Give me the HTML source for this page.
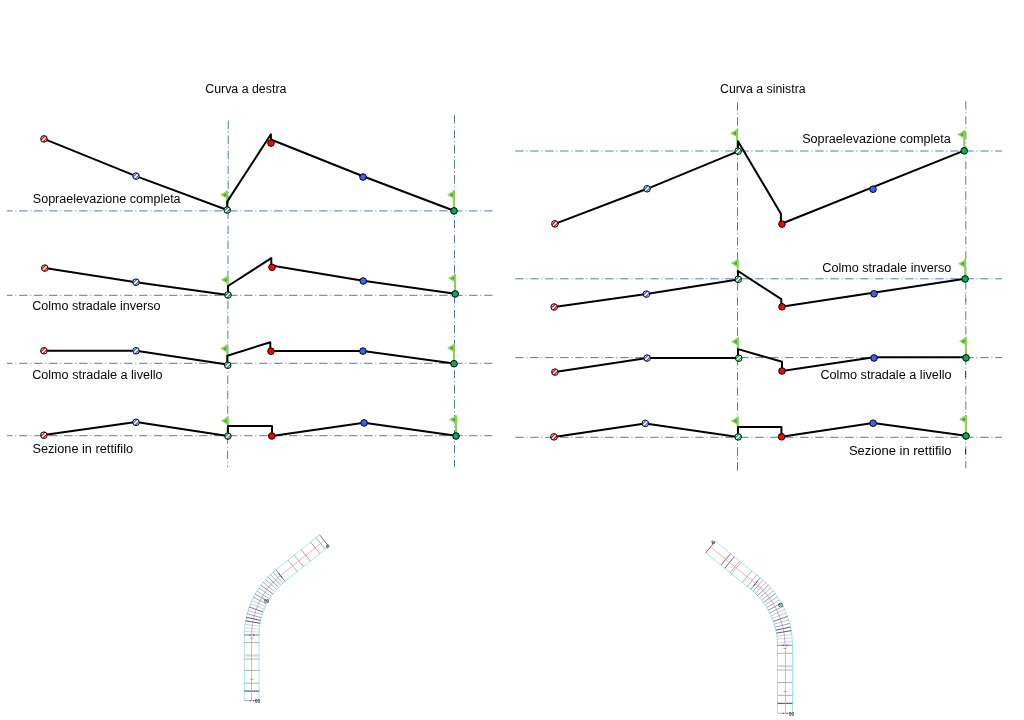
<!DOCTYPE html>
<html lang="it"><head><meta charset="utf-8"><title>Curva a destra / Curva a sinistra</title>
<style>
html,body{margin:0;padding:0;background:#fff;}
body{width:1024px;height:720px;overflow:hidden;position:relative;font-family:"Liberation Sans",sans-serif;}
svg{position:absolute;left:0;top:0;display:block;}
text{font-family:"Liberation Sans",sans-serif;font-size:12px;fill:#050505;}
.ax{stroke:#4a7ebb;stroke-width:1;stroke-dasharray:8.4 2.8 1 2.8;fill:none;}
.ln{stroke:#000;stroke-width:2;fill:none;stroke-linejoin:round;stroke-linecap:butt;}
.c{stroke:#000;stroke-width:1;}
</style></head><body>
<svg width="1024" height="720" viewBox="0 0 1024 720">
<defs>
<clipPath id="cc"><circle cx="0" cy="0" r="3.3"/></clipPath>
</defs>

<path class="ax" d="M228.3,120.6 L227.6,467"/>
<path class="ax" d="M454.5,115 V467"/>
<path class="ax" d="M7.0,210.9 H492.7" stroke-dashoffset="2.9"/>
<path class="ax" d="M7.0,295.3 H492.7" stroke-dashoffset="2.9"/>
<path class="ax" d="M7.0,363.3 H492.7" stroke-dashoffset="2.9"/>
<path class="ax" d="M7.0,435.7 H492.7" stroke-dashoffset="2.9"/>
<path class="ax" d="M737.5,102.2 V470.7"/>
<path class="ax" d="M965.8,101.2 V468.3"/>
<path class="ax" d="M515.2,151.0 H1002" stroke-dashoffset="0"/>
<path class="ax" d="M515.2,278.8 H1002" stroke-dashoffset="0"/>
<path class="ax" d="M515.2,357.6 H1002" stroke-dashoffset="0"/>
<path class="ax" d="M515.2,437.3 H1002" stroke-dashoffset="0"/>
<path d="M227.2,190.5 V210" stroke="#92d050" stroke-width="2" fill="none"/>
<path d="M227.39999999999998,190.5 L220.2,194.8 L227.39999999999998,199.1 Z" fill="#92d050"/>
<path d="M226.1,193.2 L223.1,194.9 L226.1,196.6 Z" fill="#12b24e"/>
<path d="M453.9,190.5 V210.9" stroke="#92d050" stroke-width="2" fill="none"/>
<path d="M454.09999999999997,190.5 L446.9,194.8 L454.09999999999997,199.1 Z" fill="#92d050"/>
<path d="M452.79999999999995,193.2 L449.79999999999995,194.9 L452.79999999999995,196.6 Z" fill="#12b24e"/>
<path class="ln" d="M44,138.9 L136,176.1 L227.2,210 V201.6 L270.9,134.3 V139.5 L363,176.3 L454,210.7"/>
<g transform="translate(44,138.9)"><circle r="3.3" fill="#fff"/><path clip-path="url(#cc)" d="M-3,5 L5,-3 M-5,3 L3,-5 M-1,7 L7,-1 M-7,1 L1,-7" stroke="#ff0000" stroke-width="1.25" fill="none"/><circle class="c" r="3.3" fill="none"/></g>
<g transform="translate(136,176.1)"><circle r="3.3" fill="#fff"/><path clip-path="url(#cc)" d="M-3,5 L5,-3 M-5,3 L3,-5 M-1,7 L7,-1 M-7,1 L1,-7" stroke="#3366ff" stroke-width="1.25" fill="none"/><circle class="c" r="3.3" fill="none"/></g>
<g transform="translate(227.2,210)"><circle r="3.3" fill="#fff"/><path clip-path="url(#cc)" d="M-3,5 L5,-3 M-5,3 L3,-5 M-1,7 L7,-1 M-7,1 L1,-7" stroke="#00a048" stroke-width="1.25" fill="none"/><circle class="c" r="3.3" fill="none"/></g>
<circle class="c" cx="271" cy="143.1" r="3.3" fill="#ff0000"/>
<circle class="c" cx="363" cy="177" r="3.3" fill="#3366ff"/>
<circle class="c" cx="454" cy="210.9" r="3.3" fill="#00b050"/>
<path d="M227.8,275.5 V295" stroke="#92d050" stroke-width="2" fill="none"/>
<path d="M228.0,275.5 L220.8,279.8 L228.0,284.1 Z" fill="#92d050"/>
<path d="M226.70000000000002,278.2 L223.70000000000002,279.9 L226.70000000000002,281.6 Z" fill="#12b24e"/>
<path d="M455.1,274 V293.9" stroke="#92d050" stroke-width="2" fill="none"/>
<path d="M455.3,274 L448.1,278.3 L455.3,282.6 Z" fill="#92d050"/>
<path d="M454.0,276.7 L451.0,278.4 L454.0,280.1 Z" fill="#12b24e"/>
<path class="ln" d="M44.8,268.1 L136,282.2 L228,295 V286 L271.3,258.1 V265.6 L363.1,280.7 L455.2,293.7"/>
<g transform="translate(44.8,268.1)"><circle r="3.3" fill="#fff"/><path clip-path="url(#cc)" d="M-3,5 L5,-3 M-5,3 L3,-5 M-1,7 L7,-1 M-7,1 L1,-7" stroke="#ff0000" stroke-width="1.25" fill="none"/><circle class="c" r="3.3" fill="none"/></g>
<g transform="translate(136,282.2)"><circle r="3.3" fill="#fff"/><path clip-path="url(#cc)" d="M-3,5 L5,-3 M-5,3 L3,-5 M-1,7 L7,-1 M-7,1 L1,-7" stroke="#3366ff" stroke-width="1.25" fill="none"/><circle class="c" r="3.3" fill="none"/></g>
<g transform="translate(228,295)"><circle r="3.3" fill="#fff"/><path clip-path="url(#cc)" d="M-3,5 L5,-3 M-5,3 L3,-5 M-1,7 L7,-1 M-7,1 L1,-7" stroke="#00a048" stroke-width="1.25" fill="none"/><circle class="c" r="3.3" fill="none"/></g>
<circle class="c" cx="272" cy="267.3" r="3.3" fill="#ff0000"/>
<circle class="c" cx="363.2" cy="281" r="3.3" fill="#3366ff"/>
<circle class="c" cx="455.2" cy="293.9" r="3.3" fill="#00b050"/>
<path d="M227.3,344.3 V365" stroke="#92d050" stroke-width="2" fill="none"/>
<path d="M227.5,344.3 L220.3,348.6 L227.5,352.90000000000003 Z" fill="#92d050"/>
<path d="M226.20000000000002,347.0 L223.20000000000002,348.7 L226.20000000000002,350.40000000000003 Z" fill="#12b24e"/>
<path d="M454,343.7 V363.7" stroke="#92d050" stroke-width="2" fill="none"/>
<path d="M454.2,343.7 L447,348.0 L454.2,352.3 Z" fill="#92d050"/>
<path d="M452.9,346.4 L449.9,348.09999999999997 L452.9,349.8 Z" fill="#12b24e"/>
<path class="ln" d="M43.9,350.8 H136 L227.3,364.5 V355.7 L270.3,342.2 V351 H363 L454,363.5"/>
<g transform="translate(43.9,350.8)"><circle r="3.3" fill="#fff"/><path clip-path="url(#cc)" d="M-3,5 L5,-3 M-5,3 L3,-5 M-1,7 L7,-1 M-7,1 L1,-7" stroke="#ff0000" stroke-width="1.25" fill="none"/><circle class="c" r="3.3" fill="none"/></g>
<g transform="translate(136,350.8)"><circle r="3.3" fill="#fff"/><path clip-path="url(#cc)" d="M-3,5 L5,-3 M-5,3 L3,-5 M-1,7 L7,-1 M-7,1 L1,-7" stroke="#3366ff" stroke-width="1.25" fill="none"/><circle class="c" r="3.3" fill="none"/></g>
<g transform="translate(227.7,365.2)"><circle r="3.3" fill="#fff"/><path clip-path="url(#cc)" d="M-3,5 L5,-3 M-5,3 L3,-5 M-1,7 L7,-1 M-7,1 L1,-7" stroke="#00a048" stroke-width="1.25" fill="none"/><circle class="c" r="3.3" fill="none"/></g>
<circle class="c" cx="271" cy="351.2" r="3.3" fill="#ff0000"/>
<circle class="c" cx="362.9" cy="351.1" r="3.3" fill="#3366ff"/>
<circle class="c" cx="454" cy="363.7" r="3.3" fill="#00b050"/>
<path d="M227.8,416.5 V436" stroke="#92d050" stroke-width="2" fill="none"/>
<path d="M228.0,416.5 L220.8,420.8 L228.0,425.1 Z" fill="#92d050"/>
<path d="M226.70000000000002,419.2 L223.70000000000002,420.9 L226.70000000000002,422.6 Z" fill="#12b24e"/>
<path d="M456,415.3 V436" stroke="#92d050" stroke-width="2" fill="none"/>
<path d="M456.2,415.3 L449,419.6 L456.2,423.90000000000003 Z" fill="#92d050"/>
<path d="M454.9,418.0 L451.9,419.7 L454.9,421.40000000000003 Z" fill="#12b24e"/>
<path class="ln" d="M43.9,435 L136,422 L227.9,436 V426 H272 V436 L364,422.7 L456,435.8"/>
<g transform="translate(43.9,435.2)"><circle r="3.3" fill="#fff"/><path clip-path="url(#cc)" d="M-3,5 L5,-3 M-5,3 L3,-5 M-1,7 L7,-1 M-7,1 L1,-7" stroke="#ff0000" stroke-width="1.25" fill="none"/><circle class="c" r="3.3" fill="none"/></g>
<g transform="translate(136,422.3)"><circle r="3.3" fill="#fff"/><path clip-path="url(#cc)" d="M-3,5 L5,-3 M-5,3 L3,-5 M-1,7 L7,-1 M-7,1 L1,-7" stroke="#3366ff" stroke-width="1.25" fill="none"/><circle class="c" r="3.3" fill="none"/></g>
<g transform="translate(227.9,436.1)"><circle r="3.3" fill="#fff"/><path clip-path="url(#cc)" d="M-3,5 L5,-3 M-5,3 L3,-5 M-1,7 L7,-1 M-7,1 L1,-7" stroke="#00a048" stroke-width="1.25" fill="none"/><circle class="c" r="3.3" fill="none"/></g>
<circle class="c" cx="271.8" cy="436" r="3.3" fill="#ff0000"/>
<circle class="c" cx="364.1" cy="422.9" r="3.3" fill="#3366ff"/>
<circle class="c" cx="456" cy="436" r="3.3" fill="#00b050"/>
<path d="M737.2,128.9 V151" stroke="#92d050" stroke-width="2" fill="none"/>
<path d="M737.4000000000001,128.9 L730.2,133.20000000000002 L737.4000000000001,137.5 Z" fill="#92d050"/>
<path d="M736.1,131.6 L733.1,133.3 L736.1,135.0 Z" fill="#12b24e"/>
<path d="M964.2,130.2 V150.8" stroke="#92d050" stroke-width="2" fill="none"/>
<path d="M964.4000000000001,130.2 L957.2,134.5 L964.4000000000001,138.79999999999998 Z" fill="#92d050"/>
<path d="M963.1,132.89999999999998 L960.1,134.6 L963.1,136.29999999999998 Z" fill="#12b24e"/>
<path class="ln" d="M554.9,223.9 L647.1,188.8 L738,151.3 V141.2 L780.9,213.8 V224 L964.2,150.6"/>
<g transform="translate(554.9,223.9)"><circle r="3.3" fill="#fff"/><path clip-path="url(#cc)" d="M-3,5 L5,-3 M-5,3 L3,-5 M-1,7 L7,-1 M-7,1 L1,-7" stroke="#ff0000" stroke-width="1.25" fill="none"/><circle class="c" r="3.3" fill="none"/></g>
<g transform="translate(647.1,188.8)"><circle r="3.3" fill="#fff"/><path clip-path="url(#cc)" d="M-3,5 L5,-3 M-5,3 L3,-5 M-1,7 L7,-1 M-7,1 L1,-7" stroke="#3366ff" stroke-width="1.25" fill="none"/><circle class="c" r="3.3" fill="none"/></g>
<g transform="translate(738.1,151.2)"><circle r="3.3" fill="#fff"/><path clip-path="url(#cc)" d="M-3,5 L5,-3 M-5,3 L3,-5 M-1,7 L7,-1 M-7,1 L1,-7" stroke="#00a048" stroke-width="1.25" fill="none"/><circle class="c" r="3.3" fill="none"/></g>
<circle class="c" cx="782" cy="224.1" r="3.3" fill="#ff0000"/>
<circle class="c" cx="873" cy="189.2" r="3.3" fill="#3366ff"/>
<circle class="c" cx="964.2" cy="150.8" r="3.3" fill="#00b050"/>
<path d="M737.8,259 V279" stroke="#92d050" stroke-width="2" fill="none"/>
<path d="M738.0,259 L730.8,263.3 L738.0,267.6 Z" fill="#92d050"/>
<path d="M736.6999999999999,261.7 L733.6999999999999,263.4 L736.6999999999999,265.1 Z" fill="#12b24e"/>
<path d="M965.1,259.4 V278.9" stroke="#92d050" stroke-width="2" fill="none"/>
<path d="M965.3000000000001,259.4 L958.1,263.7 L965.3000000000001,268.0 Z" fill="#92d050"/>
<path d="M964.0,262.09999999999997 L961.0,263.79999999999995 L964.0,265.5 Z" fill="#12b24e"/>
<path class="ln" d="M554.2,307 L646.4,294.1 L738,279.4 V271 L781.3,299.2 V306.8 L965.2,278.7"/>
<g transform="translate(554.2,307)"><circle r="3.3" fill="#fff"/><path clip-path="url(#cc)" d="M-3,5 L5,-3 M-5,3 L3,-5 M-1,7 L7,-1 M-7,1 L1,-7" stroke="#ff0000" stroke-width="1.25" fill="none"/><circle class="c" r="3.3" fill="none"/></g>
<g transform="translate(646.4,294.1)"><circle r="3.3" fill="#fff"/><path clip-path="url(#cc)" d="M-3,5 L5,-3 M-5,3 L3,-5 M-1,7 L7,-1 M-7,1 L1,-7" stroke="#3366ff" stroke-width="1.25" fill="none"/><circle class="c" r="3.3" fill="none"/></g>
<g transform="translate(738.2,279.3)"><circle r="3.3" fill="#fff"/><path clip-path="url(#cc)" d="M-3,5 L5,-3 M-5,3 L3,-5 M-1,7 L7,-1 M-7,1 L1,-7" stroke="#00a048" stroke-width="1.25" fill="none"/><circle class="c" r="3.3" fill="none"/></g>
<circle class="c" cx="782" cy="306.8" r="3.3" fill="#ff0000"/>
<circle class="c" cx="874" cy="293.8" r="3.3" fill="#3366ff"/>
<circle class="c" cx="965.1" cy="278.9" r="3.3" fill="#00b050"/>
<path d="M738,337.3 V358" stroke="#92d050" stroke-width="2" fill="none"/>
<path d="M738.2,337.3 L731,341.6 L738.2,345.90000000000003 Z" fill="#92d050"/>
<path d="M736.9,340.0 L733.9,341.7 L736.9,343.40000000000003 Z" fill="#12b24e"/>
<path d="M965.9,337 V357.9" stroke="#92d050" stroke-width="2" fill="none"/>
<path d="M966.1,337 L958.9,341.3 L966.1,345.6 Z" fill="#92d050"/>
<path d="M964.8,339.7 L961.8,341.4 L964.8,343.1 Z" fill="#12b24e"/>
<path class="ln" d="M554.9,372 L647.1,358 H738 V349.1 L782,361.8 V371 L874,357.3 H966"/>
<g transform="translate(554.9,372.1)"><circle r="3.3" fill="#fff"/><path clip-path="url(#cc)" d="M-3,5 L5,-3 M-5,3 L3,-5 M-1,7 L7,-1 M-7,1 L1,-7" stroke="#ff0000" stroke-width="1.25" fill="none"/><circle class="c" r="3.3" fill="none"/></g>
<g transform="translate(647.1,358.1)"><circle r="3.3" fill="#fff"/><path clip-path="url(#cc)" d="M-3,5 L5,-3 M-5,3 L3,-5 M-1,7 L7,-1 M-7,1 L1,-7" stroke="#3366ff" stroke-width="1.25" fill="none"/><circle class="c" r="3.3" fill="none"/></g>
<g transform="translate(738.7,358.2)"><circle r="3.3" fill="#fff"/><path clip-path="url(#cc)" d="M-3,5 L5,-3 M-5,3 L3,-5 M-1,7 L7,-1 M-7,1 L1,-7" stroke="#00a048" stroke-width="1.25" fill="none"/><circle class="c" r="3.3" fill="none"/></g>
<circle class="c" cx="782" cy="371" r="3.3" fill="#ff0000"/>
<circle class="c" cx="874" cy="358" r="3.3" fill="#3366ff"/>
<circle class="c" cx="966" cy="357.9" r="3.3" fill="#00b050"/>
<path d="M737.8,416.6 V436.9" stroke="#92d050" stroke-width="2" fill="none"/>
<path d="M738.0,416.6 L730.8,420.90000000000003 L738.0,425.20000000000005 Z" fill="#92d050"/>
<path d="M736.6999999999999,419.3 L733.6999999999999,421.0 L736.6999999999999,422.70000000000005 Z" fill="#12b24e"/>
<path d="M965.9,415 V436" stroke="#92d050" stroke-width="2" fill="none"/>
<path d="M966.1,415 L958.9,419.3 L966.1,423.6 Z" fill="#92d050"/>
<path d="M964.8,417.7 L961.8,419.4 L964.8,421.1 Z" fill="#12b24e"/>
<path class="ln" d="M553.9,436.9 L645.3,423.4 L738,436.9 V427 H781.4 V436.8 L873.1,423 L966,435.7"/>
<g transform="translate(553.9,436.9)"><circle r="3.3" fill="#fff"/><path clip-path="url(#cc)" d="M-3,5 L5,-3 M-5,3 L3,-5 M-1,7 L7,-1 M-7,1 L1,-7" stroke="#ff0000" stroke-width="1.25" fill="none"/><circle class="c" r="3.3" fill="none"/></g>
<g transform="translate(645.3,423.4)"><circle r="3.3" fill="#fff"/><path clip-path="url(#cc)" d="M-3,5 L5,-3 M-5,3 L3,-5 M-1,7 L7,-1 M-7,1 L1,-7" stroke="#3366ff" stroke-width="1.25" fill="none"/><circle class="c" r="3.3" fill="none"/></g>
<g transform="translate(738.2,436.9)"><circle r="3.3" fill="#fff"/><path clip-path="url(#cc)" d="M-3,5 L5,-3 M-5,3 L3,-5 M-1,7 L7,-1 M-7,1 L1,-7" stroke="#00a048" stroke-width="1.25" fill="none"/><circle class="c" r="3.3" fill="none"/></g>
<circle class="c" cx="781.6" cy="436.8" r="3.3" fill="#ff0000"/>
<circle class="c" cx="873.1" cy="423.2" r="3.3" fill="#3366ff"/>
<circle class="c" cx="966" cy="436" r="3.3" fill="#00b050"/>
<path d="M965.4,294.7 v1 M965.4,299.8 v1" stroke="#000" stroke-width="0.8"/>
<path d="M965.5,371.1 V377.2" stroke="#000" stroke-width="0.8" stroke-dasharray="1.6 0.7"/>
<path d="M965.5,448.9 V454.4" stroke="#112" stroke-width="0.8"/>
<text x="205.2" y="92.7" textLength="81.2" lengthAdjust="spacingAndGlyphs">Curva a destra</text>
<text x="720.0" y="92.7" textLength="85.6" lengthAdjust="spacingAndGlyphs">Curva a sinistra</text>
<text x="32.8" y="203.4" textLength="147.8" lengthAdjust="spacingAndGlyphs">Sopraelevazione completa</text>
<text x="32.2" y="310.3" textLength="128.2" lengthAdjust="spacingAndGlyphs">Colmo stradale inverso</text>
<text x="32.2" y="378.7" textLength="130.4" lengthAdjust="spacingAndGlyphs">Colmo stradale a livello</text>
<text x="32.4" y="452.7" textLength="100.7" lengthAdjust="spacingAndGlyphs">Sezione in rettifilo</text>
<text x="802.2" y="143.1" textLength="148.7" lengthAdjust="spacingAndGlyphs">Sopraelevazione completa</text>
<text x="822.3" y="272.0" textLength="129.0" lengthAdjust="spacingAndGlyphs">Colmo stradale inverso</text>
<text x="820.4" y="378.9" textLength="131.2" lengthAdjust="spacingAndGlyphs">Colmo stradale a livello</text>
<text x="848.9" y="454.8" textLength="102.7" lengthAdjust="spacingAndGlyphs">Sezione in rettifilo</text>
<path d="M259.10,700.8 V635 A68.60,68.60 0 0 1 285.00,581.31 L328.82,546.45" stroke="#8fe2f9" stroke-width="0.85" fill="none"/>
<path d="M244.30,700.8 V635 A83.40,83.40 0 0 1 275.78,569.73 L319.61,534.87" stroke="#8fe2f9" stroke-width="0.85" fill="none"/>
<path d="M244.29999999999998,642.6 H259.09999999999997" stroke="#606060" stroke-width="0.5"/>
<path d="M244.29999999999998,659 H259.09999999999997" stroke="#606060" stroke-width="0.5"/>
<path d="M244.29999999999998,670.4 H259.09999999999997" stroke="#606060" stroke-width="0.5"/>
<path d="M244.29999999999998,683.2 H259.09999999999997" stroke="#606060" stroke-width="0.5"/>
<path d="M244.29999999999998,700.6 H259.09999999999997" stroke="#606060" stroke-width="0.5"/>
<path d="M244.29999999999998,635 H259.09999999999997" stroke="#606060" stroke-width="0.5"/>
<path d="M244.29999999999998,691.1 H259.09999999999997" stroke="#5f686a" stroke-width="1.3"/>
<rect x="244.29999999999998" y="654.4" width="14.8" height="2.2000000000000455" fill="#d4d8d8"/>
<path d="M259.10,635.00 L244.30,635.00" stroke="#777" stroke-width="0.5"/>
<path d="M259.16,632.06 L244.38,631.43" stroke="#a8a8a8" stroke-width="0.45"/>
<path d="M259.35,629.13 L244.61,627.87" stroke="#a8a8a8" stroke-width="0.45"/>
<path d="M259.66,626.22 L244.99,624.32" stroke="#a0a0a0" stroke-width="0.45"/>
<path d="M260.10,623.31 L245.52,620.79" stroke="#333" stroke-width="0.8"/>
<path d="M260.66,620.43 L246.20,617.29" stroke="#333" stroke-width="0.8"/>
<path d="M261.35,617.58 L247.04,613.82" stroke="#666" stroke-width="0.6"/>
<path d="M262.16,614.75 L248.02,610.38" stroke="#888" stroke-width="0.5"/>
<path d="M263.08,611.97 L249.14,607.00" stroke="#444" stroke-width="0.7"/>
<path d="M264.13,609.22 L250.41,603.66" stroke="#999" stroke-width="0.5"/>
<path d="M265.29,606.53 L251.82,600.38" stroke="#999" stroke-width="0.5"/>
<path d="M266.56,603.88 L253.37,597.17" stroke="#666" stroke-width="0.6"/>
<path d="M267.95,601.29 L255.06,594.02" stroke="#4a4a4a" stroke-width="0.6"/>
<path d="M269.45,598.77 L256.88,590.95" stroke="#6a6a6a" stroke-width="0.5"/>
<path d="M271.05,596.31 L258.83,587.96" stroke="#6a6a6a" stroke-width="0.5"/>
<path d="M272.76,593.92 L260.91,585.06" stroke="#4a4a4a" stroke-width="0.6"/>
<path d="M274.57,591.61 L263.10,582.25" stroke="#6a6a6a" stroke-width="0.5"/>
<path d="M276.47,589.37 L265.42,579.53" stroke="#6a6a6a" stroke-width="0.5"/>
<path d="M278.47,587.22 L267.85,576.92" stroke="#4a4a4a" stroke-width="0.6"/>
<path d="M280.56,585.16 L270.39,574.41" stroke="#6a6a6a" stroke-width="0.5"/>
<path d="M282.74,583.19 L273.04,572.01" stroke="#6a6a6a" stroke-width="0.5"/>
<path d="M285.00,581.31 L275.78,569.73" stroke="#4a4a4a" stroke-width="0.6"/>
<path d="M297.20,571.60 L287.99,560.02" stroke="#6a6a6a" stroke-width="0.55"/>
<path d="M303.47,566.62 L294.25,555.04" stroke="#6a6a6a" stroke-width="0.55"/>
<path d="M310.35,561.14 L301.14,549.56" stroke="#6a6a6a" stroke-width="0.6"/>
<path d="M319.82,553.61 L310.61,542.03" stroke="#6a6a6a" stroke-width="0.55"/>
<path d="M325.30,549.25 L316.09,537.67" stroke="#6a6a6a" stroke-width="0.55"/>
<path d="M282.26,577.87 L278.52,573.17" stroke="#222" stroke-width="0.9"/>
<path d="M328.82,546.45 L319.61,534.87" stroke="#333" stroke-width="0.7"/>
<path d="M251.5,700.8 V635" stroke="#ff8f8f" stroke-width="0.8" fill="none"/>
<path d="M251.7,635 A76,76 0 0 1 280.39,575.52" stroke="#8c8cff" stroke-width="0.7" fill="none"/>
<path d="M280.39,575.52 L323.20,541.47" stroke="#ff8585" stroke-width="0.7" fill="none"/>
<path d="M250.2,638.2 h3" stroke="#777" stroke-width="0.6"/>
<path d="M250.2,679.4 h3" stroke="#777" stroke-width="0.6"/>
<path d="M249.5,635 h1.1 M253.1,635 h1.4" stroke="#111" stroke-width="0.8"/>
<path d="M249.5,700.8 h1 M253.2,700.8 h0.9" stroke="#111" stroke-width="0.9"/>
<path d="M777.50,713.4 V645.3 A72.00,72.00 0 0 0 750.81,589.35 L705.74,552.84" stroke="#8fe2f9" stroke-width="0.85" fill="none"/>
<path d="M792.50,713.4 V645.3 A87.00,87.00 0 0 0 760.25,577.69 L715.18,541.19" stroke="#8fe2f9" stroke-width="0.85" fill="none"/>
<path d="M777.5,653.3 H792.5" stroke="#606060" stroke-width="0.5"/>
<path d="M777.5,670 H792.5" stroke="#606060" stroke-width="0.5"/>
<path d="M777.5,682.5 H792.5" stroke="#606060" stroke-width="0.5"/>
<path d="M777.5,695.4 H792.5" stroke="#606060" stroke-width="0.5"/>
<path d="M777.5,713.2 H792.5" stroke="#606060" stroke-width="0.5"/>
<path d="M777.5,645.3 H792.5" stroke="#606060" stroke-width="0.5"/>
<path d="M777.5,703.4 H792.5" stroke="#5f686a" stroke-width="1.3"/>
<rect x="777.5" y="665" width="15.0" height="2.2999999999999545" fill="#d4d8d8"/>
<path d="M777.50,645.30 L792.50,645.30" stroke="#777" stroke-width="0.5"/>
<path d="M777.44,642.25 L792.42,641.61" stroke="#a8a8a8" stroke-width="0.45"/>
<path d="M777.24,639.20 L792.19,637.93" stroke="#a8a8a8" stroke-width="0.45"/>
<path d="M776.92,636.17 L791.80,634.27" stroke="#a0a0a0" stroke-width="0.45"/>
<path d="M776.47,633.15 L791.25,630.62" stroke="#333" stroke-width="0.8"/>
<path d="M775.89,630.15 L790.55,627.00" stroke="#333" stroke-width="0.8"/>
<path d="M775.18,627.19 L789.70,623.41" stroke="#666" stroke-width="0.6"/>
<path d="M774.35,624.25 L788.70,619.86" stroke="#888" stroke-width="0.5"/>
<path d="M773.40,621.35 L787.55,616.36" stroke="#444" stroke-width="0.7"/>
<path d="M772.32,618.49 L786.25,612.91" stroke="#999" stroke-width="0.5"/>
<path d="M771.13,615.69 L784.80,609.52" stroke="#999" stroke-width="0.5"/>
<path d="M769.81,612.93 L783.21,606.19" stroke="#666" stroke-width="0.6"/>
<path d="M768.39,610.24 L781.49,602.93" stroke="#4a4a4a" stroke-width="0.6"/>
<path d="M766.84,607.60 L779.62,599.75" stroke="#6a6a6a" stroke-width="0.5"/>
<path d="M765.19,605.04 L777.63,596.65" stroke="#6a6a6a" stroke-width="0.5"/>
<path d="M763.43,602.54 L775.50,593.64" stroke="#4a4a4a" stroke-width="0.6"/>
<path d="M761.57,600.13 L773.25,590.72" stroke="#6a6a6a" stroke-width="0.5"/>
<path d="M759.60,597.79 L770.87,587.90" stroke="#6a6a6a" stroke-width="0.5"/>
<path d="M757.54,595.54 L768.38,585.18" stroke="#4a4a4a" stroke-width="0.6"/>
<path d="M755.39,593.38 L765.78,582.57" stroke="#6a6a6a" stroke-width="0.5"/>
<path d="M753.14,591.32 L763.07,580.07" stroke="#6a6a6a" stroke-width="0.5"/>
<path d="M750.81,589.35 L760.25,577.69" stroke="#4a4a4a" stroke-width="0.6"/>
<path d="M747.31,586.51 L756.75,574.86" stroke="#6a6a6a" stroke-width="0.55"/>
<path d="M742.34,582.49 L751.78,570.83" stroke="#6a6a6a" stroke-width="0.55"/>
<path d="M731.62,573.80 L741.06,562.14" stroke="#6a6a6a" stroke-width="0.5"/>
<path d="M730.14,572.61 L739.58,560.95" stroke="#6a6a6a" stroke-width="0.5"/>
<path d="M724.85,568.33 L734.29,556.67" stroke="#505050" stroke-width="0.8"/>
<path d="M721.12,565.31 L730.56,553.65" stroke="#aaa" stroke-width="1.4"/>
<path d="M753.64,585.85 L757.42,581.19" stroke="#222" stroke-width="0.9"/>
<path d="M705.74,552.84 L715.18,541.19" stroke="#333" stroke-width="0.7"/>
<path d="M785.45,713.4 V645.3" stroke="#ff8f8f" stroke-width="0.8" fill="none"/>
<path d="M785.0,645.3 A79.5,79.5 0 0 0 755.53,583.52" stroke="#8c8cff" stroke-width="0.7" fill="none"/>
<path d="M755.53,583.52 L711.47,547.83" stroke="#ff8585" stroke-width="0.7" fill="none"/>
<path d="M783.5,648.5 h3" stroke="#777" stroke-width="0.6"/>
<path d="M783.5,691.5 h3" stroke="#777" stroke-width="0.6"/>
<path d="M782.8,645.3 h1.1 M786.4,645.3 h1.4" stroke="#111" stroke-width="0.8"/>
<path d="M782.8,713.4 h1 M786.5,713.4 h0.9" stroke="#111" stroke-width="0.9"/>
<text x="255.0" y="702.7" textLength="5.0" lengthAdjust="spacingAndGlyphs" style="font-size:5.2px;fill:#333;font-weight:bold">00</text>
<text x="789.0" y="715.7" textLength="5.0" lengthAdjust="spacingAndGlyphs" style="font-size:5.2px;fill:#333;font-weight:bold">00</text>
<text x="264.2" y="603.4" textLength="4.8" lengthAdjust="spacingAndGlyphs" style="font-size:5.2px;fill:#2a3a44;font-weight:bold">60</text>
<text x="778.2" y="606.6" textLength="4.8" lengthAdjust="spacingAndGlyphs" style="font-size:5.2px;fill:#2a3a44;font-weight:bold">60</text>
<text x="325.2" y="546.8" textLength="3.2" lengthAdjust="spacingAndGlyphs" transform="rotate(38 325.2 546.8)" style="font-size:5.2px;fill:#333;font-weight:bold">6</text>
<text x="713.0" y="544.8" textLength="3.2" lengthAdjust="spacingAndGlyphs" transform="rotate(-38 713.0 544.8)" style="font-size:5.2px;fill:#333;font-weight:bold">6</text>
</svg>
</body></html>
